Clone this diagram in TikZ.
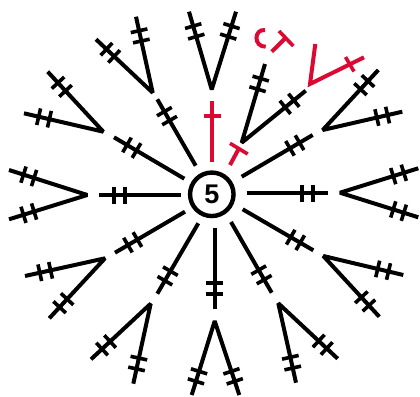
\documentclass[tikz,border=0pt]{standalone}
\usepackage{fontspec}
\setmainfont{Liberation Sans}
\usetikzlibrary{calc}

% one crossbar on the stem (#1)--(#2) at fraction #3
\newcommand{\crossbar}[3]{
  \draw[tick] ($(#1)!#3!(#2)!8.5pt!90:(#2)$) -- ($(#1)!#3!(#2)!8.5pt!-90:(#2)$);
}
% double-crochet post: stem with two crossbars
\newcommand{\dcpost}[2]{
  \crossbar{#1}{#2}{0.68}
  \crossbar{#1}{#2}{0.815}
}

\begin{document}
\begin{tikzpicture}[
    x=1pt, y=-1pt,
    % Define styles for the elements
    stem/.style={
        draw=black,
        line width=4pt,
        miter limit=2.5
      },
    tick/.style={
        draw=black,
        line width=3.6pt
      },
    redstem/.style={
        stem,
        draw=stitchred
      },
    redtick/.style={
        tick,
        draw=stitchred
      },
    ring/.style={
        circle,
        draw=black,
        line width=4.4pt,
        inner sep=0pt,
        minimum size=43.5pt,
        font=\fontsize{27}{27}\selectfont\bfseries
      }
  ]
  \definecolor{stitchred}{HTML}{DC0A32}
  \useasboundingbox (0,0) rectangle (420,396);

  % Centre of the round
  \node[ring] (centre) at (211.8,194.3) {5};

  % Single posts around the centre
  \foreach \ax/\ay/\bx/\by in {
      246.7/193/328.3/193,
      241.7/176.7/312.7/135,
      242.7/209.3/313.3/250.3,
      231/222/271.7/292.7,
      214.7/227.7/214.7/308.7,
      198.3/223.3/157.3/293.7,
      185/211.7/115/252.7,
      181/195/99/195,
      184.3/178.7/114/137.3,
      195.7/165.7/157.3/99.3
    }{
      \coordinate (a) at (\ax,\ay);
      \coordinate (b) at (\bx,\by);
      \draw[stem] (a) -- (b);
      \dcpost{a}{b}
    }

  % Pairs of posts out of one stitch
  \foreach \ax/\ay/\bx/\by/\cx/\cy in {
      211.7/89.5/189/11.7/236/11.7,
      241.7/142.7/265/64/305.7/90.7,
      322.7/130/378.3/70/402.3/111.7,
      340/192.7/418.3/168.3/418.3/217.3,
      323.3/256/403.3/275/379.3/316.7,
      278.3/303.3/337.7/358.7/296/382.7,
      214.7/321/239.3/395/191.7/395,
      150.7/303.7/91/359.3/133.3/383.7,
      105/258.3/25/276/49.3/318.3,
      87.3/195/9/170/9/219.3,
      103.3/131.7/47.7/71.7/24/113.3,
      152.7/92.7/136/16.7/96/39.3
    }{
      \coordinate (a) at (\ax,\ay);
      \coordinate (b) at (\bx,\by);
      \coordinate (c) at (\cx,\cy);
      \draw[stem] (b) -- (a) -- (c);
      \dcpost{a}{b}
      \dcpost{a}{c}
    }

  % Red stitches of the next round
  \draw[redstem] (212.3,161.7) -- (212.3,100.7);
  \draw[redtick] (203.5,115.7) -- (221,115.7);

  \draw[redstem] (230,165) -- (239,148.3);
  \draw[redtick] (230,143.3) -- (247.7,154);

  \draw[redstem] (315.3,44) -- (310,84) -- (364,57.3);
  \draw[redtick] (345.5,57) -- (354,71.5);

  \draw[redstem] (271.7,51.7) -- (286,37.5);
  \draw[redtick] (279,31) -- (293.3,46);

  \draw[redstem] (265,30) .. controls (253.5,29) and (253.5,47) .. (265.7,46.7);
\end{tikzpicture}
\end{document}
